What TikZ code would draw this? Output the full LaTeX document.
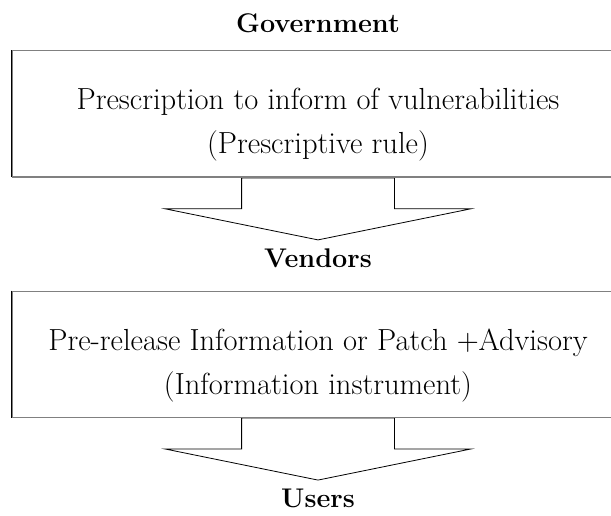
\documentclass[tikz,border=0pt]{standalone}
\usepackage{tikz}
\usetikzlibrary{shapes,arrows,arrows.meta}
\usetikzlibrary{positioning}

\begin{document}
\begin{tikzpicture}[x=1pt,y=-1pt,node distance=20pt,font=\fontsize{30.5}{44}\selectfont]

% Define block styles
\tikzstyle{actor} = [font=\fontsize{27}{43}\selectfont\bfseries, inner sep=0pt]
\tikzstyle{block} = [rectangle, draw=gray, line width=1pt,
    minimum width=612pt, minimum height=126pt, inner sep=0pt]
\tikzstyle{caption} = [align=center, inner sep=0pt]
\tikzstyle{flow} = [single arrow, draw, line width=0.8pt, shape border rotate=270,
    minimum height=62pt, minimum width=305pt, inner xsep=76pt, inner ysep=0pt,
    single arrow head extend=76.5pt, single arrow tip angle=157, single arrow head indent=0pt]
\tikzstyle{edge} = [draw, line width=1.5pt]
\tikzstyle{rim} = [draw=gray, line width=1pt]

\useasboundingbox (0,0) rectangle (611,516);

    % Place nodes
    \node [block] (ruleBox) at (318,114) {};
    \node [actor, above=17pt of ruleBox] (gov) {Government};
    \node [caption] (rule) at ([yshift=-11pt]ruleBox.center)
        {Prescription to inform of vulnerabilities\\(Prescriptive rule)};
    \node [flow, anchor=tail] (toVendors) at (ruleBox.south) {};
    \node [actor, below=8pt of toVendors.tip] (vendors) {Vendors};

    \node [block, below=23pt of vendors] (infoBox) {};
    \node [caption] (info) at ([yshift=-11pt]infoBox.center)
        {Pre-release Information or Patch +Advisory\\(Information instrument)};
    \node [flow, anchor=tail] (toUsers) at (infoBox.south) {};
    \node [actor, below=8pt of toUsers.tip] (users) {Users};

    % box edges over the arrow tails
    \path [rim] (ruleBox.south west) -- (ruleBox.south east);
    \path [rim] (infoBox.south west) -- (infoBox.south east);
    \path [edge] (ruleBox.north west) -- (ruleBox.south west);
    \path [edge] (infoBox.north west) -- (infoBox.south west);
\end{tikzpicture}
\end{document}
